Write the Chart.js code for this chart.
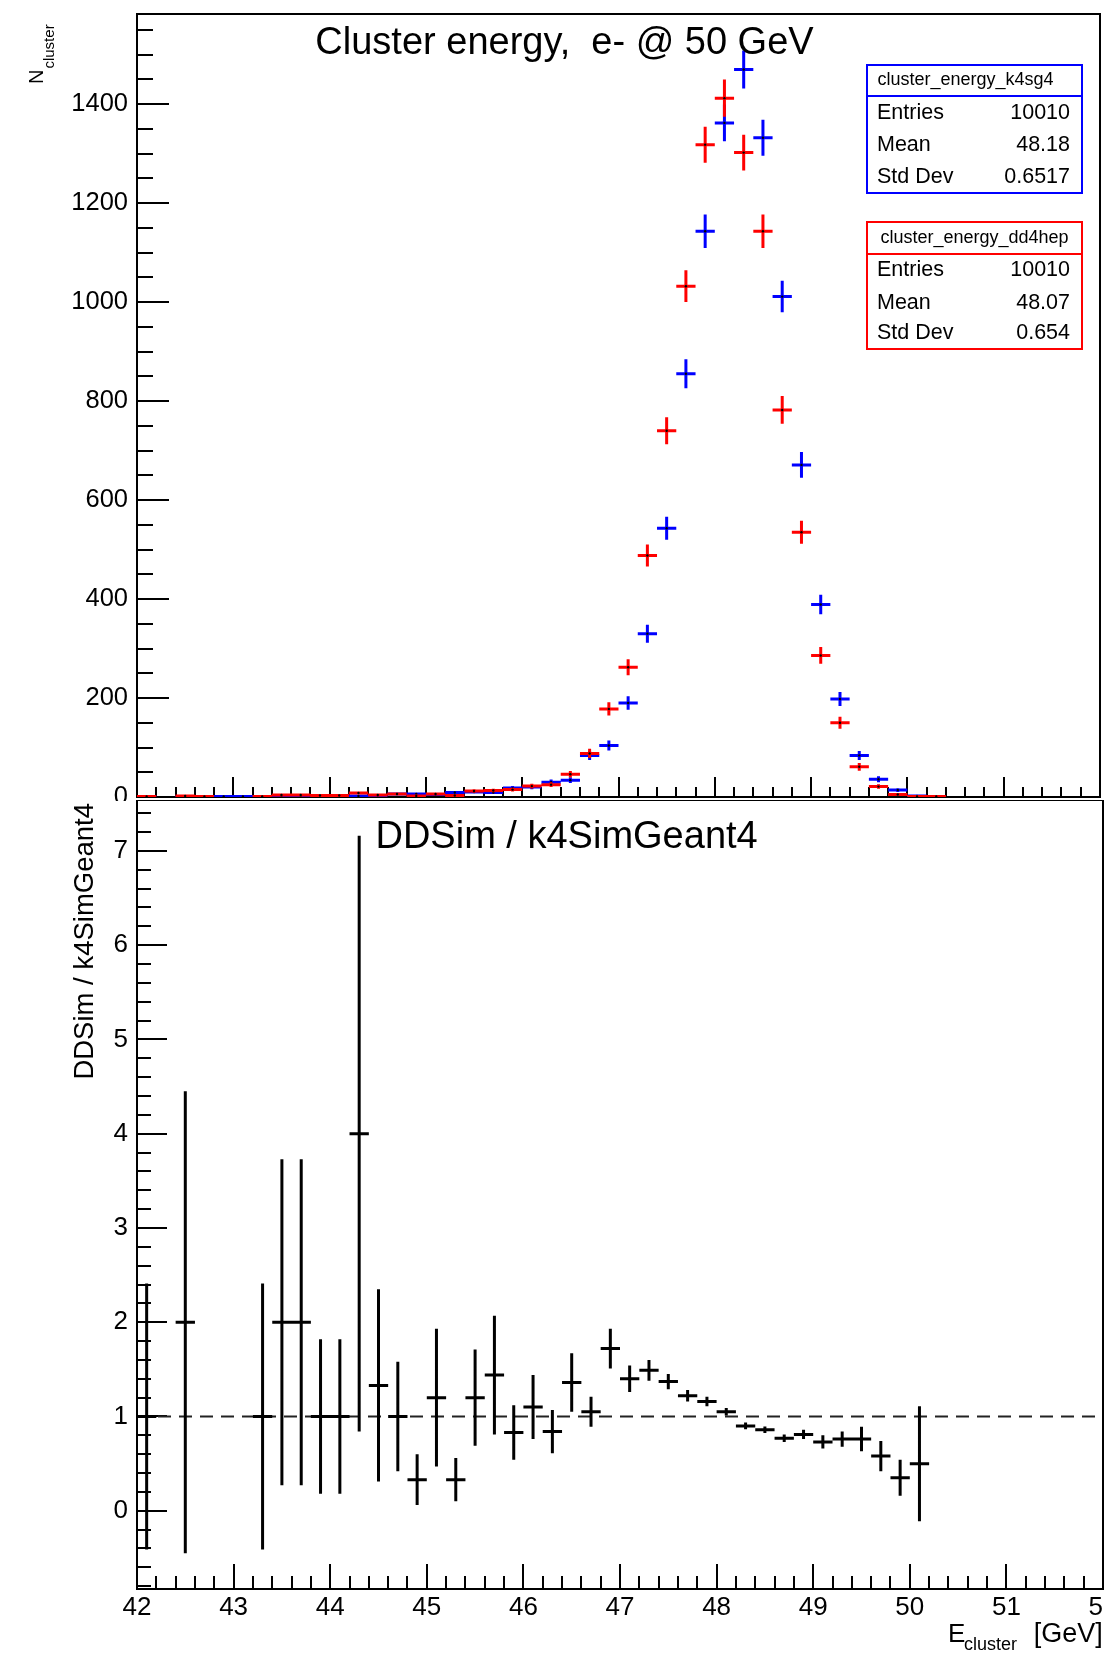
<!DOCTYPE html>
<html>
<head>
<meta charset="utf-8">
<script src="https://cdn.jsdelivr.net/npm/chart.js@4.4.1/dist/chart.umd.min.js"></script>
<style>
html,body{margin:0;padding:0;background:#fff;}
#wrap{position:relative;width:1110px;height:1657px;overflow:hidden;background:#fff;}
canvas{position:absolute;left:0;display:block;}
#topPad{top:0;}
#botPad{top:800px;}
</style>
</head>
<body>
<div id="wrap">
<canvas id="topPad" width="1104" height="801"></canvas>
<canvas id="botPad" width="1104" height="857"></canvas>
</div>
<script>
// ---------------- data ----------------
const binCenters = [42.1,42.3,42.5,42.7,42.9,43.1,43.3,43.5,43.7,43.9,
                    44.1,44.3,44.5,44.7,44.9,45.1,45.3,45.5,45.7,45.9,
                    46.1,46.3,46.5,46.7,46.9,47.1,47.3,47.5,47.7,47.9,
                    48.1,48.3,48.5,48.7,48.9,49.1,49.3,49.5,49.7,49.9,
                    50.1,50.3,50.5,50.7,50.9,51.1,51.3,51.5,51.7,51.9];
const binHalfWidth = 0.1;

const k4sg4Counts = [1,0,1,0,1,1,1,2,2,3,
                     3,2,3,6,6,5,9,10,9,18,
                     20,30,34,84,104,190,330,543,855,1143,
                     1362,1470,1332,1011,671,389,198,84,36,14,
                     2,0,0,0,0,0,0,0,0,0];
const k4sg4Errors = [1,0,1,0,1,1,1,1.41,1.41,1.73,
                     1.73,1.41,1.73,2.45,2.45,2.24,3,3.16,3,4.24,
                     4.47,5.48,5.83,9.17,10.2,13.8,18.2,23.3,29.2,33.8,
                     36.9,38.3,36.5,31.8,25.9,19.7,14.1,9.17,6,3.74,
                     1.41,0,0,0,0,0,0,0,0,0];

const dd4hepCounts = [1,0,2,1,0,0,1,4,4,3,
                      3,8,4,6,2,6,3,12,13,15,
                      22,25,46,88,178,262,488,740,1032,1318,
                      1412,1302,1143,782,535,286,150,61,21,5,
                      1,1,0,0,0,0,0,0,0,0];
const dd4hepErrors = [1,0,1.41,1,0,0,1,2,2,1.73,
                      1.73,2.83,2,2.45,1.41,2.45,1.73,3.46,3.61,3.87,
                      4.69,5,6.78,9.38,13.3,16.2,22.1,27.2,32.1,36.3,
                      37.6,36.1,33.8,28,23.1,16.9,12.2,7.81,4.58,2.24,
                      1,1,0,0,0,0,0,0,0,0];

const ratioValues = [1.00,null,2.00,null,null,null,1.00,2.00,2.00,1.00,
                     1.00,4.00,1.33,1.00,0.33,1.20,0.33,1.20,1.44,0.83,
                     1.10,0.84,1.36,1.05,1.72,1.40,1.49,1.37,1.22,1.16,
                     1.05,0.90,0.86,0.77,0.81,0.73,0.76,0.76,0.58,0.35,
                     0.50,null,null,null,null,null,null,null,null,null];
const ratioErrors = [1.41,null,2.45,null,null,null,1.41,1.73,1.73,0.82,
                     0.82,3.16,1.02,0.58,0.27,0.73,0.23,0.51,0.63,0.29,
                     0.34,0.23,0.31,0.16,0.21,0.14,0.11,0.08,0.06,0.05,
                     0.04,0.035,0.035,0.04,0.05,0.07,0.08,0.13,0.16,0.19,
                     0.61,null,null,null,null,null,null,null,null,null];

const referenceLine = [1, 1];           // y of the dashed unity line at x = 42 and x = 52
const xTickValues = [42,43,44,45,46,47,48,49,50,51,52];
const topYTickValues = [0,200,400,600,800,1000,1200,1400];
const botYTickValues = [0,1,2,3,4,5,6,7];

const statsK4 = {title: 'cluster_energy_k4sg4', rows: [['Entries','10010'],['Mean','48.18'],['Std Dev','0.6517']]};
const statsDD = {title: 'cluster_energy_dd4hep', rows: [['Entries','10010'],['Mean','48.07'],['Std Dev','0.654']]};

const mainTitle = 'Cluster energy,  e- @ 50 GeV';
const ratioTitle = 'DDSim / k4SimGeant4';

// ---------------- helpers ----------------
const FONT = "'Liberation Sans', Arial, Helvetica, sans-serif";
Chart.defaults.font.family = FONT;
Chart.defaults.color = '#000';

function crossPoints(values, errs) {
  const pts = [];
  binCenters.forEach((c, i) => {
    const v = values[i];
    if (v === null || v === 0) return;
    pts.push({x: c - binHalfWidth, y: v}, {x: c + binHalfWidth, y: v}, {x: c, y: null},
             {x: c, y: v - errs[i]}, {x: c, y: v + errs[i]}, {x: c, y: null});
  });
  return pts;
}
function centerPoints(values) {
  const pts = [];
  binCenters.forEach((c, i) => { if (values[i]) pts.push({x: c, y: values[i]}); });
  return pts;
}
function zeroPad(s) { s.paddingLeft = 0; s.paddingRight = 0; s.paddingTop = 0; s.paddingBottom = 0; }

const rootAxes = {
  id: 'rootAxes',
  beforeDatasetsDraw(chart, args, o) {
    const {ctx, chartArea: a} = chart;
    const xs = chart.scales.x, ys = chart.scales.y;
    ctx.save();
    ctx.strokeStyle = '#000';
    ctx.lineWidth = 2;
    ctx.beginPath();
    const y0 = Math.ceil(ys.min / o.yMinorStep - 1e-9), y1 = Math.floor(ys.max / o.yMinorStep + 1e-9);
    for (let k = y0; k <= y1; k++) {
      const v = k * o.yMinorStep;
      const r = v / o.yMajorStep;
      const major = Math.abs(r - Math.round(r)) < 1e-6;
      const py = Math.round(ys.getPixelForValue(v));
      if (py <= a.top + 1 || py >= a.bottom - 1) continue;
      ctx.moveTo(a.left, py); ctx.lineTo(a.left + (major ? o.yMajorLen : o.yMinorLen), py);
    }
    const x0 = Math.ceil(xs.min / o.xMinorStep - 1e-9), x1 = Math.floor(xs.max / o.xMinorStep + 1e-9);
    for (let k = x0; k <= x1; k++) {
      const v = k * o.xMinorStep;
      const r = v / o.xMajorStep;
      const major = Math.abs(r - Math.round(r)) < 1e-6;
      const px = Math.round(xs.getPixelForValue(v));
      if (px <= a.left + 1 || px >= a.right - 1) continue;
      ctx.moveTo(px, a.bottom); ctx.lineTo(px, a.bottom - (major ? o.xMajorLen : o.xMinorLen));
    }
    ctx.stroke();
    ctx.strokeRect(a.left, a.top, a.right - a.left, a.bottom - a.top);
    ctx.restore();
  }
};

function statsBox(ctx, b, color, st) {
  ctx.save();
  ctx.strokeStyle = color; ctx.lineWidth = 2;
  ctx.strokeRect(b.x, b.y, b.w, b.h);
  ctx.beginPath(); ctx.moveTo(b.x, b.sep); ctx.lineTo(b.x + b.w, b.sep); ctx.stroke();
  ctx.fillStyle = '#000';
  ctx.textBaseline = 'middle';
  ctx.font = '18px ' + FONT; ctx.textAlign = 'center';
  ctx.fillText(st.title, b.x + b.w / 2 + b.titleShift, (b.y + b.sep) / 2);
  ctx.font = '21.5px ' + FONT;
  st.rows.forEach((r, i) => {
    ctx.textAlign = 'left'; ctx.fillText(r[0], b.x + 10, b.rows[i]);
    ctx.textAlign = 'right'; ctx.fillText(r[1], b.x + b.w - 12, b.rows[i]);
  });
  ctx.restore();
}

const topText = {
  id: 'topText',
  afterDraw(chart) {
    const ctx = chart.ctx;
    ctx.save();
    ctx.fillStyle = '#000';
    ctx.font = '38px ' + FONT; ctx.textAlign = 'center'; ctx.textBaseline = 'alphabetic';
    ctx.fillText(mainTitle, 564.5, 54);
    // y-axis title N_cluster
    ctx.save();
    ctx.translate(43, 84); ctx.rotate(-Math.PI / 2);
    ctx.textAlign = 'left';
    ctx.font = '20px ' + FONT; ctx.fillText('N', 0, 0);
    const wN = ctx.measureText('N').width;
    ctx.font = '15px ' + FONT; ctx.fillText('cluster', wN + 1, 10.5);
    ctx.restore();
    statsBox(ctx, {x: 867, y: 65, w: 215, h: 128, sep: 96, rows: [113, 145.5, 177], titleShift: -9}, '#0000ff', statsK4);
    statsBox(ctx, {x: 867, y: 222, w: 215, h: 127, sep: 254, rows: [270.5, 303, 333.5], titleShift: 0}, '#ff0000', statsDD);
    ctx.restore();
  }
};

const botText = {
  id: 'botText',
  afterDraw(chart) {
    const ctx = chart.ctx;
    ctx.save();
    ctx.fillStyle = '#000';
    ctx.font = '38px ' + FONT; ctx.textAlign = 'center'; ctx.textBaseline = 'alphabetic';
    ctx.fillText(ratioTitle, 566.6, 48);
    // y-axis title
    ctx.save();
    ctx.translate(93, 3); ctx.rotate(-Math.PI / 2);
    ctx.textAlign = 'right'; ctx.font = '27.5px ' + FONT;
    ctx.fillText(ratioTitle, 0, 0);
    ctx.restore();
    // x-axis title
    ctx.textAlign = 'left'; ctx.font = '26px ' + FONT;
    ctx.fillText('E', 948, 841.5);
    ctx.font = '18px ' + FONT;
    ctx.fillText('cluster', 964, 850);
    ctx.textAlign = 'right'; ctx.font = '27px ' + FONT;
    ctx.fillText('[GeV]', 1102.7, 841.5);
    ctx.restore();
  }
};

const common = {
  responsive: false, animation: false, devicePixelRatio: 1, events: [],
  plugins: {legend: {display: false}, tooltip: {enabled: false}, title: {display: false}}
};

// ---------------- top pad ----------------
new Chart(document.getElementById('topPad'), {
  type: 'scatter',
  data: {datasets: [
    {data: crossPoints(k4sg4Counts, k4sg4Errors), showLine: true, spanGaps: false, borderColor: '#0000ff', borderWidth: 3, pointRadius: 0, order: 4},
    {data: centerPoints(k4sg4Counts), showLine: false, pointRadius: 1.2, pointBorderWidth: 0, pointBackgroundColor: '#000', order: 3},
    {data: crossPoints(dd4hepCounts, dd4hepErrors), showLine: true, spanGaps: false, borderColor: '#ff0000', borderWidth: 3, pointRadius: 0, order: 2},
    {data: centerPoints(dd4hepCounts), showLine: false, pointRadius: 1.2, pointBorderWidth: 0, pointBackgroundColor: '#000', order: 1}
  ]},
  options: Object.assign({}, common, {
    layout: {padding: {left: 0, right: 1, top: 14, bottom: 0}},
    plugins: Object.assign({}, common.plugins, {rootAxes: {yMinorStep: 50, yMajorStep: 200, yMajorLen: 32, yMinorLen: 16, xMinorStep: 0.2, xMajorStep: 1, xMajorLen: 20, xMinorLen: 10}}),
    scales: {
      x: {type: 'linear', min: 42, max: 52, grid: {display: false, drawTicks: false}, border: {display: false},
          ticks: {display: false}, afterFit: s => { s.height = 1; zeroPad(s); }},
      y: {type: 'linear', min: 0, max: 1582, grid: {display: false, drawTicks: false}, border: {display: false},
          afterBuildTicks: s => { s.ticks = topYTickValues.map(v => ({value: v})); },
          ticks: {font: {size: 25.5}, padding: 9, color: '#000', autoSkip: false, callback: v => String(v)},
          afterFit: s => { s.width = 137; zeroPad(s); }}
    }
  }),
  plugins: [rootAxes, topText]
});

// ---------------- ratio pad ----------------
new Chart(document.getElementById('botPad'), {
  type: 'scatter',
  data: {datasets: [
    {data: [{x: xTickValues[0], y: referenceLine[0]}, {x: xTickValues[xTickValues.length - 1], y: referenceLine[1]}], showLine: true, borderColor: '#222', borderWidth: 2, borderDash: [13, 8], pointRadius: 0, order: 2},
    {data: crossPoints(ratioValues, ratioErrors), showLine: true, spanGaps: false, borderColor: '#000', borderWidth: 3, pointRadius: 0, order: 1}
  ]},
  options: Object.assign({}, common, {
    layout: {padding: {left: 0, right: 1, top: 0, bottom: 0}},
    plugins: Object.assign({}, common.plugins, {rootAxes: {yMinorStep: 0.2, yMajorStep: 1, yMajorLen: 30, yMinorLen: 14, xMinorStep: 0.2, xMajorStep: 1, xMajorLen: 25, xMinorLen: 13}}),
    scales: {
      x: {type: 'linear', min: 42, max: 52, grid: {display: false, drawTicks: false}, border: {display: false},
          afterBuildTicks: s => { s.ticks = xTickValues.map(v => ({value: v})); },
          ticks: {font: {size: 26}, padding: 3, color: '#000', autoSkip: false, maxRotation: 0, minRotation: 0, callback: v => String(v)},
          afterFit: s => { s.height = 68; zeroPad(s); }},
      y: {type: 'linear', min: -0.83, max: 7.54, grid: {display: false, drawTicks: false}, border: {display: false},
          afterBuildTicks: s => { s.ticks = botYTickValues.map(v => ({value: v})); },
          ticks: {font: {size: 26}, padding: 9, color: '#000', autoSkip: false, callback: v => String(v)},
          afterFit: s => { s.width = 137; zeroPad(s); }}
    }
  }),
  plugins: [rootAxes, botText]
});
</script>
</body>
</html>
